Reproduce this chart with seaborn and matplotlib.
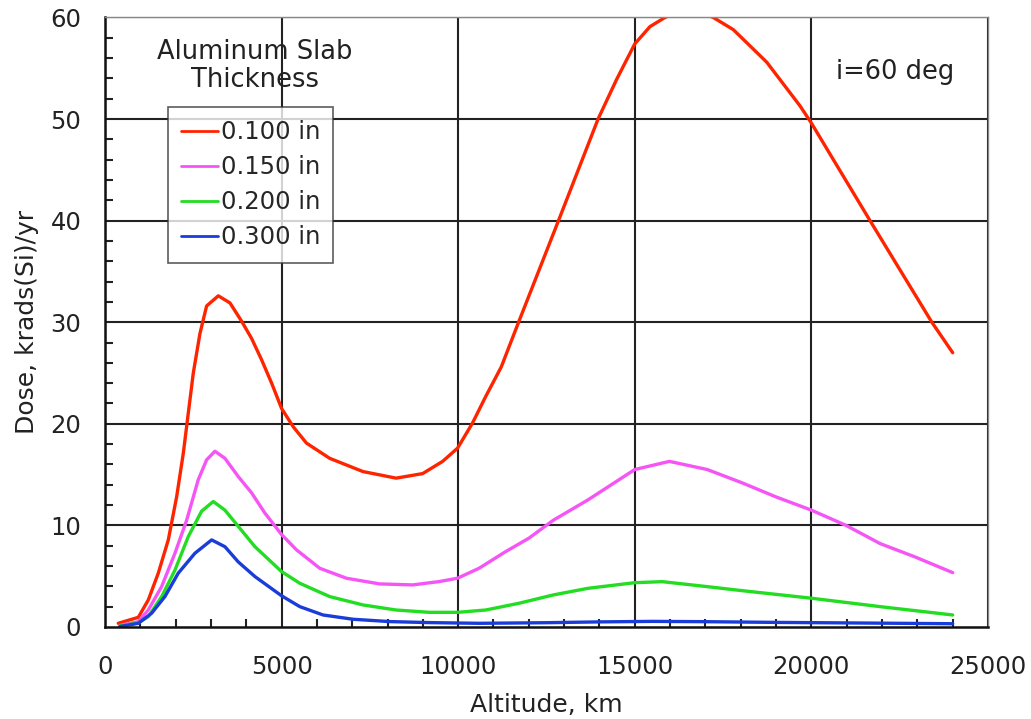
import numpy as np
import pandas as pd
import matplotlib
matplotlib.use("Agg")
import matplotlib.pyplot as plt
from matplotlib.ticker import MultipleLocator
import seaborn as sns

# ── data ─────────────────────────────────────────────────────────────────────
red_x = [377, 944, 1227, 1510, 1793, 2029, 2218, 2359, 2501, 2690, 2878, 3209,
         3539, 3869, 4152, 4435, 4719, 5002, 5332, 5705, 6363, 7303, 8243,
         8995, 9559, 9982, 10405, 10781, 11220, 11710, 12840, 13960, 14485,
         15000, 15430, 15855, 16540, 17222, 17790, 18735, 19677, 20000, 21660,
         23410, 24000]
red_y = [0.36, 0.95, 2.66, 5.3, 8.57, 12.8, 17.1, 21.05, 25.0, 28.9, 31.6,
         32.6, 31.9, 30.1, 28.4, 26.3, 24.0, 21.5, 19.7, 18.1, 16.6, 15.3,
         14.65, 15.1, 16.3, 17.6, 20.07, 22.7, 25.6, 30.0, 40.0, 50.0, 53.9,
         57.4, 59.1, 60.0, 61.0, 60.0, 58.8, 55.6, 51.3, 49.6, 40.0, 30.0, 27.0]

mag_x = [425, 944, 1227, 1604, 1982, 2312, 2642, 2878, 3114, 3397, 3775, 4152,
         4530, 5000, 5423, 6081, 6833, 7773, 8713, 9465, 9982, 10593, 11345,
         12003, 12690, 13670, 15000, 15980, 17050, 18030, 19000, 20000, 20980,
         21950, 22930, 24000]
mag_y = [0.15, 0.52, 1.67, 3.97, 7.26, 10.5, 14.5, 16.45, 17.3, 16.6, 14.8,
         13.2, 11.2, 9.1, 7.59, 5.78, 4.8, 4.24, 4.14, 4.47, 4.8, 5.78, 7.42,
         8.74, 10.5, 12.5, 15.5, 16.3, 15.5, 14.2, 12.8, 11.5, 10.0, 8.2, 6.9,
         5.35]

grn_x = [425, 944, 1227, 1604, 1982, 2359, 2737, 3067, 3397, 3775, 4247, 5000,
         5517, 6363, 7303, 8243, 9183, 9982, 10781, 11716, 12690, 13665, 15000,
         15780, 17050, 18025, 20000, 21950, 24000]
grn_y = [0.1, 0.4, 1.02, 2.99, 5.6, 8.9, 11.4, 12.35, 11.5, 9.9, 7.9, 5.45,
         4.3, 2.99, 2.17, 1.67, 1.44, 1.44, 1.67, 2.33, 3.15, 3.8, 4.36, 4.46,
         3.97, 3.58, 2.83, 2.0, 1.18]

blu_x = [425, 944, 1321, 1699, 2076, 2548, 3020, 3397, 3775, 4247, 5000, 5517,
         6175, 7021, 8055, 9183, 10593, 12500, 14000, 15500, 17000, 19000,
         21000, 24000]
blu_y = [0.05, 0.36, 1.35, 3.0, 5.3, 7.26, 8.57, 7.9, 6.4, 4.96, 3.07, 2.0,
         1.18, 0.76, 0.53, 0.43, 0.36, 0.42, 0.5, 0.55, 0.52, 0.45, 0.4, 0.32]

labels = ["0.100 in", "0.150 in", "0.200 in", "0.300 in"]
colors = ["#ff2400", "#f555f5", "#22dd22", "#1a3cd8"]

df = pd.concat([
    pd.DataFrame({"alt": x, "dose": y, "thick": lab})
    for x, y, lab in zip([red_x, mag_x, grn_x, blu_x],
                         [red_y, mag_y, grn_y, blu_y], labels)
])

# ── plot ─────────────────────────────────────────────────────────────────────
sns.set_style("white")
plt.rcParams["font.family"] = ["DejaVu Sans"]

fig = plt.figure(figsize=(10.31, 7.19), dpi=100)
ax = fig.add_axes([0.1018, 0.128, 0.8565, 0.8477])

sns.lineplot(data=df, x="alt", y="dose", hue="thick", hue_order=labels,
             palette=dict(zip(labels, colors)), linewidth=2.4, sort=True,
             estimator=None, ax=ax)

ax.set_xlim(0, 25000)
ax.set_ylim(0, 60)
ax.xaxis.set_major_locator(MultipleLocator(5000))
ax.xaxis.set_minor_locator(MultipleLocator(1000))
ax.yaxis.set_major_locator(MultipleLocator(10))
ax.yaxis.set_minor_locator(MultipleLocator(2))
ax.tick_params(which="both", direction="in", bottom=True, left=True,
               top=False, right=False, colors="#222")
ax.tick_params(which="major", length=0, labelsize=17.5)
ax.tick_params(axis="x", which="major", pad=20)
ax.tick_params(axis="y", which="major", pad=17)
ax.tick_params(which="minor", length=6, width=1.5)

ax.grid(True, which="major", color="#222", linewidth=1.5)
ax.get_ygridlines()[1].set_linewidth(0.8)
ax.get_ygridlines()[1].set_color("#555")

for s in ["left", "bottom"]:
    ax.spines[s].set_color("#111")
    ax.spines[s].set_linewidth(1.8)
for s in ["top", "right"]:
    ax.spines[s].set_color("#888")
    ax.spines[s].set_linewidth(1.0)

ax.set_xlabel("Altitude, km", fontsize=18, color="#222", labelpad=10)
ax.set_ylabel("Dose, krads(Si)/yr", fontsize=18, color="#222", labelpad=8)

leg = ax.legend(loc="upper left", bbox_to_anchor=(0.0713, 0.853),
                fontsize=17.5, frameon=True, fancybox=False, edgecolor="#333",
                handlelength=1.5, handletextpad=0.12, labelspacing=0.45,
                borderpad=0.55, borderaxespad=0)
leg.get_frame().set_linewidth(1.2)
for ln in leg.get_lines():
    ln.set_linewidth(2.0)

ax.text(0.170, 0.920, "Aluminum Slab\nThickness", transform=ax.transAxes,
        ha="center", va="center", fontsize=18.5, color="#222", linespacing=1.1)
ax.text(0.895, 0.910, "i=60 deg", transform=ax.transAxes,
        ha="center", va="center", fontsize=18.5, color="#222")

fig.savefig("out.png", dpi=100)
